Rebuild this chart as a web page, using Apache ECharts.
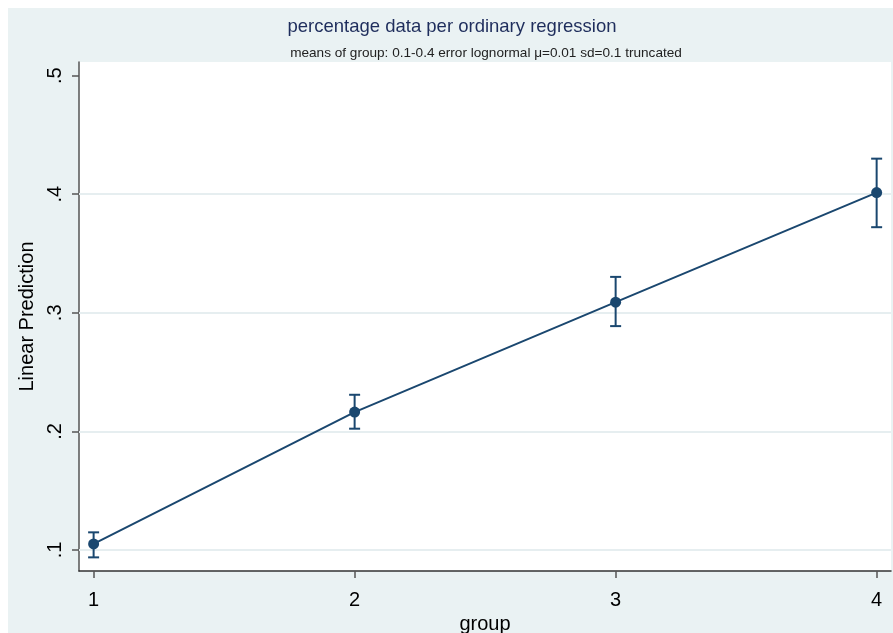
<!DOCTYPE html>
<html>
<head>
<meta charset="utf-8">
<script src="https://cdn.jsdelivr.net/npm/echarts@6/dist/echarts.min.js"></script>
<style>
html,body{margin:0;padding:0;background:#fff;}
#chart{width:893px;height:633px;}
</style>
</head>
<body>
<div id="chart"></div>
<script>
var groups = [1, 2, 3, 4];
var predictions = [0.1051, 0.2163, 0.3090, 0.4014];
var ciUpper = [0.1149, 0.2309, 0.3303, 0.4300];
var ciLower = [0.0938, 0.2023, 0.2888, 0.3722];
var xTicks = [1, 2, 3, 4];
var yTicks = [0.1, 0.2, 0.3, 0.4, 0.5];
var yGridLines = [0.1, 0.2, 0.3, 0.4];
var yTickLabels = ['.1', '.2', '.3', '.4', '.5'];

var navy = '#1A476F';
var font = 'Liberation Sans, Arial, sans-serif';

var lineData = groups.map(function (g, i) { return [g, predictions[i]]; });
var ciData = groups.map(function (g, i) { return [g, ciLower[i], ciUpper[i]]; });

var chart = echarts.init(document.getElementById('chart'), null, {renderer: 'canvas'});
chart.setOption({
  backgroundColor: '#ffffff',
  animation: false,
  graphic: [{
    type: 'rect', z: -10, silent: true,
    shape: {x: 8, y: 8, width: 885, height: 625},
    style: {fill: '#EAF2F3'}
  }],
  title: [{
    text: 'percentage data per ordinary regression',
    left: 447, top: 12, textAlign: 'center',
    textStyle: {fontFamily: font, fontSize: 18.5, fontWeight: 'normal', color: '#1E2D5C'}
  }, {
    text: 'means of group: 0.1-0.4 error lognormal \u03bc=0.01 sd=0.1 truncated',
    left: 481, top: 41, textAlign: 'center',
    textStyle: {fontFamily: font, fontSize: 13.6, fontWeight: 'normal', color: '#222222'}
  }],
  grid: {
    left: 79, top: 62, right: 2, bottom: 62,
    outerBoundsMode: 'none', containLabel: false,
    show: true, backgroundColor: '#ffffff', borderWidth: 0
  },
  xAxis: {
    type: 'value', min: 0.944, max: 4.055,
    name: 'group', nameLocation: 'middle', nameGap: 39,
    nameTextStyle: {fontFamily: font, fontSize: 20, color: '#000'},
    axisLine: {show: true, lineStyle: {color: '#333', width: 1.5}},
    axisTick: {show: true, length: 7, customValues: xTicks, lineStyle: {color: '#555', width: 1.5}},
    axisLabel: {customValues: xTicks, margin: 19, fontFamily: font, fontSize: 20, color: '#000',
      formatter: function (v) { return String(v); }},
    splitLine: {show: false}
  },
  yAxis: {
    type: 'value', min: 0.0823, max: 0.5115,
    name: 'Linear Prediction', nameLocation: 'middle', nameGap: 42,
    nameTextStyle: {fontFamily: font, fontSize: 20, color: '#000'},
    axisLine: {show: true, lineStyle: {color: '#555', width: 1.5}},
    axisTick: {show: true, length: 7, customValues: yTicks, lineStyle: {color: '#555', width: 1.5}},
    axisLabel: {customValues: yTicks, rotate: 90, margin: 14, fontFamily: font, fontSize: 20, color: '#000',
      formatter: function (v) {
        var idx = yTicks.findIndex(function (t) { return Math.abs(t - v) < 1e-9; });
        return idx >= 0 ? yTickLabels[idx] : '';
      }},
    splitLine: {show: false}
  },
  series: [{
    type: 'line',
    data: lineData,
    symbol: 'circle', symbolSize: 11,
    itemStyle: {color: navy},
    lineStyle: {color: navy, width: 2},
    z: 5,
    markLine: {
      silent: true, symbol: 'none', label: {show: false},
      lineStyle: {color: '#E6EEF0', width: 2, type: 'solid'},
      data: yGridLines.map(function (v) { return {yAxis: v}; }),
      z: 1
    }
  }, {
    type: 'custom',
    data: ciData,
    z: 4,
    renderItem: function (params, api) {
      var x = api.value(0);
      var lo = api.coord([x, api.value(1)]);
      var hi = api.coord([x, api.value(2)]);
      var cap = 5.5;
      var st = {stroke: navy, lineWidth: 2, fill: null};
      return {
        type: 'group',
        children: [
          {type: 'line', shape: {x1: lo[0], y1: lo[1], x2: hi[0], y2: hi[1]}, style: st},
          {type: 'line', shape: {x1: hi[0] - cap, y1: hi[1], x2: hi[0] + cap, y2: hi[1]}, style: st},
          {type: 'line', shape: {x1: lo[0] - cap, y1: lo[1], x2: lo[0] + cap, y2: lo[1]}, style: st}
        ]
      };
    }
  }]
});
</script>
</body>
</html>
